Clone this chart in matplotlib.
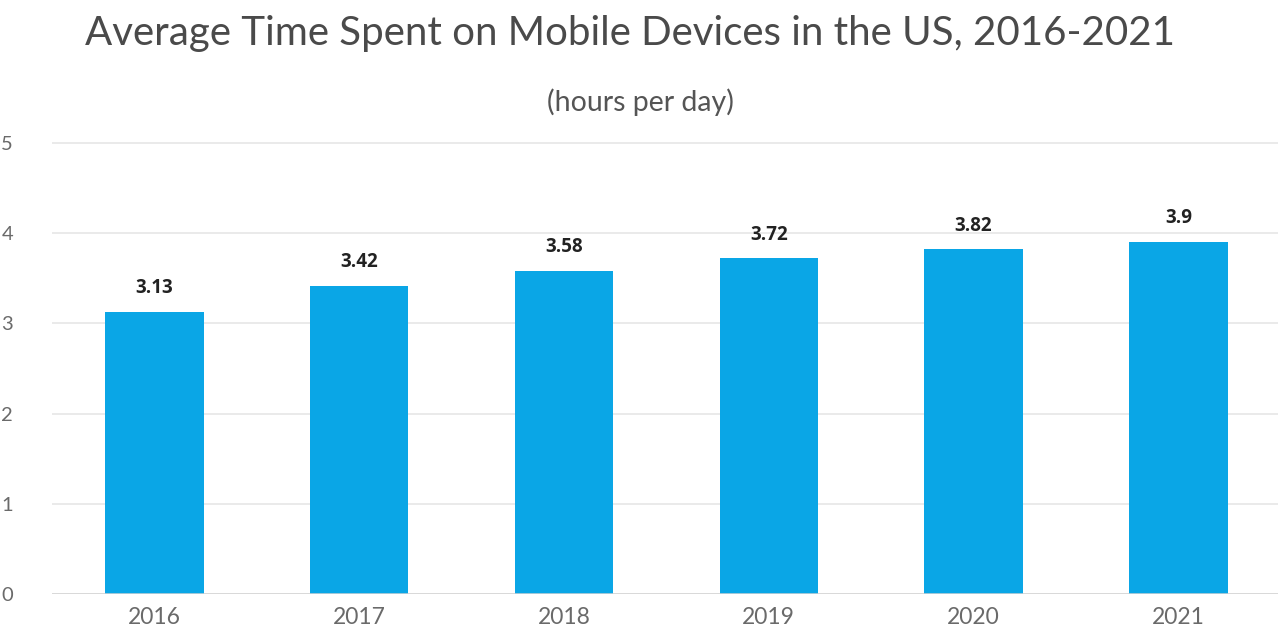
import matplotlib
matplotlib.use('Agg')
import matplotlib.pyplot as plt

# average daily time on mobile devices, US
years = ['2016', '2017', '2018', '2019', '2020', '2021']
hours = [3.13, 3.42, 3.58, 3.72, 3.82, 3.9]
value_labels = ['3.13', '3.42', '3.58', '3.72', '3.82', '3.9']

W, H = 1278, 629
fig = plt.figure(figsize=(W / 100, H / 100), dpi=100)

# axes placed in pixels: y=0 at 594px, y=5 at 143px
unit = (594 - 143) / 5
ymax = 5.05
ax_bottom = 1 - 594 / H
ax_height = ymax * unit / H
ax = fig.add_axes([52 / W, ax_bottom, (6 * 204.8) / W, ax_height])

x = range(len(years))
ax.bar(x, hours, width=0.48, color='#0aa6e6', zorder=3)

for i, (v, lab) in enumerate(zip(hours, value_labels)):
    ax.annotate(lab, (i, v), xytext=(0, 10), textcoords='offset points',
                ha='center', va='bottom', fontsize=13.5, fontweight='bold',
                family='Open Sans', color='#222222')

ax.set_xlim(-0.5, 5.5)
ax.set_ylim(0, ymax)
ax.set_yticks([0, 1, 2, 3, 4, 5])
ax.set_xticks(list(x))
ax.set_xticklabels(years)

ax.grid(axis='y', color='#e8e8e8', linewidth=1.3, zorder=0)
ax.axhline(0, color='#d4d4d4', linewidth=1.8, zorder=4)
for s in ax.spines.values():
    s.set_visible(False)

ax.tick_params(axis='both', length=0, colors='#6a6a6a')
ax.tick_params(axis='x', pad=9, labelsize=16.5)
ax.tick_params(axis='y', pad=28, labelsize=14.5)
for t in ax.get_xticklabels() + ax.get_yticklabels():
    t.set_family('Lato')

fig.text(630 / W, 1 - 34 / H, 'Average Time Spent on Mobile Devices in the US, 2016-2021',
         ha='center', va='center', fontsize=29, family='Lato',
         color='#4a4a4a')
fig.text(640 / W, 1 - 102 / H, '(hours per day)', ha='center', va='center',
         fontsize=20.5, family='Lato', color='#555555')

fig.savefig('out.png', dpi=100)
